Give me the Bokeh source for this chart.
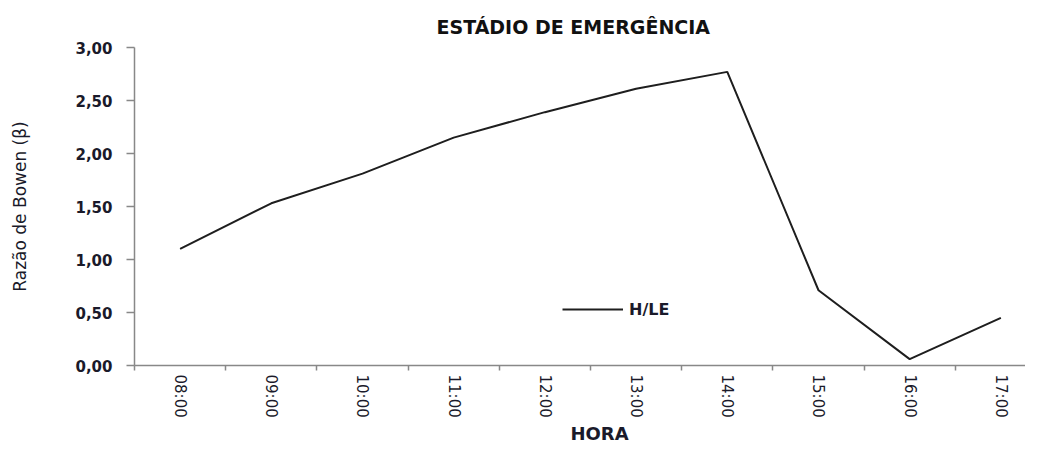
from bokeh.plotting import figure
from bokeh.models import (Range1d, FixedTicker, CustomJSTickFormatter, Legend,
                          LegendItem, Title, ColumnDataSource)
from bokeh.embed import file_html
from bokeh.resources import INLINE
import math

hours = ["08:00", "09:00", "10:00", "11:00", "12:00", "13:00", "14:00", "15:00", "16:00", "17:00"]
bowen = [1.10, 1.53, 1.81, 2.15, 2.39, 2.61, 2.77, 0.71, 0.06, 0.45]
y_ticks = [0.0, 0.5, 1.0, 1.5, 2.0, 2.5, 3.0]
series_name = "H/LE"

src = ColumnDataSource(dict(x=[i + 0.5 for i in range(len(hours))], y=bowen))

p = figure(width=1025, height=443, output_backend="svg", toolbar_location=None,
           x_range=Range1d(0, 9.77), y_range=Range1d(0, 3.0),
           min_border_left=134, min_border_right=0, min_border_top=47,
           min_border_bottom=74)
p.background_fill_color = "white"
p.border_fill_color = "white"
p.outline_line_color = None
p.grid.visible = False

p.title.text = "ESTÁDIO DE EMERGÊNCIA"
p.title.text_font = "DejaVu Sans"
p.title.text_font_size = "19px"
p.title.text_font_style = "bold"
p.title.text_color = "#111111"
p.title.align = "left"
p.title.offset = 302
p.title.standoff = 20

r = p.line("x", "y", source=src, line_color="#1e1e1e", line_width=2)

# axes
ax = p.xaxis[0]
ax.ticker = FixedTicker(ticks=[i + 0.5 for i in range(len(hours))],
                        minor_ticks=list(range(len(hours) + 1)))
ax.formatter = CustomJSTickFormatter(args=dict(labels=hours),
                                     code="return labels[Math.floor(tick)] || '';")
ax.major_label_orientation = -math.pi / 2
ax.major_tick_out = 0
ax.major_tick_in = 0
ax.minor_tick_out = 5
ax.minor_tick_in = 0
ax.minor_tick_line_color = "#888888"
ax.minor_tick_line_width = 1.5
ax.axis_line_color = "#888888"
ax.axis_line_width = 1.5
ax.major_label_standoff = 4
ax.major_label_text_font = "DejaVu Sans"
ax.major_label_text_font_size = "15px"
ax.major_label_text_color = "#1a1a2a"

ay = p.yaxis[0]
ay.ticker = FixedTicker(ticks=y_ticks)
ay.formatter = CustomJSTickFormatter(code="return tick.toFixed(2).replace('.', ',');")
ay.minor_tick_line_color = None
ay.major_tick_out = 8
ay.major_tick_in = 0
ay.major_tick_line_color = "#888888"
ay.major_tick_line_width = 1.5
ay.axis_line_color = "#888888"
ay.axis_line_width = 1.5
ay.major_label_standoff = 14
ay.major_label_text_font = "DejaVu Sans"
ay.major_label_text_font_size = "15px"
ay.major_label_text_font_style = "bold"
ay.major_label_text_color = "#1a1a2a"
ay.axis_label = "Razão de Bowen (β)"
ay.axis_label_text_font = "DejaVu Sans"
ay.axis_label_text_font_size = "17px"
ay.axis_label_text_font_style = "normal"
ay.axis_label_text_color = "#1a1a2a"
ay.axis_label_standoff = 42

p.add_layout(Title(text="HORA", align="left", offset=436, text_font="DejaVu Sans",
                   text_font_size="18px", text_font_style="bold",
                   text_color="#1a1a2a", standoff=0), "below")

legend = Legend(items=[LegendItem(label=series_name, renderers=[r])],
                location=(428, 46), orientation="horizontal",
                background_fill_alpha=0, border_line_color=None,
                padding=0, margin=0, glyph_width=61, glyph_height=20,
                label_height=20, label_standoff=6,
                label_text_font="DejaVu Sans", label_text_font_size="16px",
                label_text_font_style="bold", label_text_color="#1a1a2a")
p.add_layout(legend, "center")

open("out.html", "w").write(file_html(p, INLINE))
